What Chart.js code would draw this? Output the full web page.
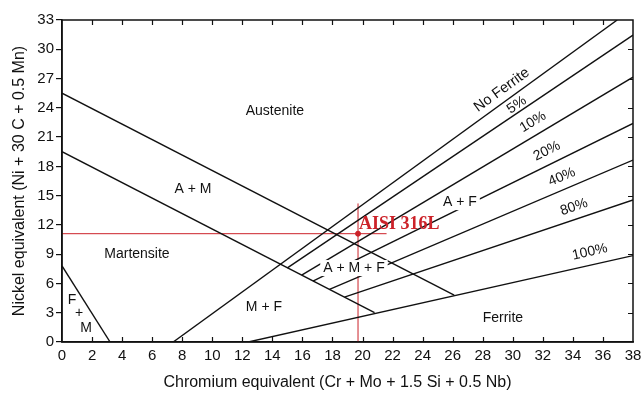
<!DOCTYPE html>
<html>
<head>
<meta charset="utf-8">
<script src="https://cdn.jsdelivr.net/npm/chart.js@4.4.1/dist/chart.umd.min.js"></script>
<style>
  html, body { margin: 0; padding: 0; background: #fff; }
  #wrap { width: 641px; height: 394px; }
</style>
</head>
<body>
<div id="wrap"><canvas id="myChart"></canvas></div>
<script>
// Schaeffler diagram boundaries, each one a straight segment (Cr eq, Ni eq)
const boundaryNames = ['A/A+M', 'A+M/M', 'F+M', 'No Ferrite', '5%', '10%', '20%', '40%', '80%', '100%'];
const startCr = [0, 0, 0, 7.4, 15.0, 15.95, 16.7, 17.8, 18.8, 12.4];
const startNi = [25.5, 19.5, 7.8, 0, 7.6, 6.85, 6.25, 5.4, 4.6, 0];
const endCr = [26.1, 20.8, 3.2, 36.95, 38, 38, 38, 38, 38, 38];
const endNi = [4.8, 3.0, 0, 33, 31.45, 27.15, 22.4, 18.65, 14.55, 8.85];

// the alloy that is marked in red
const alloyName = 'AISI 316L';
const alloyCr = 19.7;
const alloyNi = 11.1;
const guideCrEnd = 21.6;
const guideNiEnd = 14.2;

// axis ranges / tick steps
const crMin = 0, crMax = 38, crStep = 2;
const niMin = 0, niMax = 33, niStep = 3;
const crTitle = 'Chromium equivalent (Cr + Mo + 1.5 Si + 0.5 Nb)';
const niTitle = 'Nickel equivalent (Ni + 30 C + 0.5 Mn)';

// text written on the diagram
const labelText = ['Austenite', 'A + M', 'Martensite', 'F', '+', 'M', 'M + F', 'Ferrite', 'A + M + F', 'A + F',
  'No Ferrite', '5%', '10%', '20%', '40%', '80%', '100%'];
const labelCr = [14.17, 8.72, 4.99, 0.67, 1.13, 1.6, 13.44, 29.34, 19.43, 26.48, 29.27, 30.27, 31.34, 32.27, 33.27, 34.07, 35.13];
const labelNi = [23.67, 15.68, 9.02, 4.3, 2.97, 1.43, 3.59, 2.46, 7.58, 14.34, 25.82, 24.28, 22.54, 19.57, 16.9, 13.83, 9.22];
const labelAngle = [0, 0, 0, 0, 0, 0, 0, 0, 0, 0, -36, -34, -31, -26, -23, -18.5, -12.6];
const labelSize = [14, 14, 14, 14, 14, 14, 14, 14, 14, 14, 14.5, 14, 14, 14, 14, 14, 14];
const labelBox = [false, false, false, false, false, false, false, false, true, true, false, false, false, false, false, false, false];

const FONT = "'Liberation Sans', Arial, sans-serif";
const RED = '#cc2229';

let datasets = [];
boundaryNames.forEach((name, i) => {
  datasets.push({
    label: name,
    data: [{x: startCr[i], y: startNi[i]}, {x: endCr[i], y: endNi[i]}],
    showLine: true,
    borderColor: '#111',
    borderWidth: 1.4,
    pointRadius: 0
  });
});
datasets.push({
  label: 'guide h',
  data: [{x: crMin, y: alloyNi}, {x: guideCrEnd, y: alloyNi}],
  showLine: true, borderColor: RED, borderWidth: 1, pointRadius: 0
});
datasets.push({
  label: 'guide v',
  data: [{x: alloyCr, y: niMin}, {x: alloyCr, y: guideNiEnd}],
  showLine: true, borderColor: RED, borderWidth: 1, pointRadius: 0
});
datasets.push({
  label: alloyName,
  data: [{x: alloyCr, y: alloyNi}],
  pointRadius: 2.5,
  backgroundColor: RED,
  borderColor: RED
});

const frameAndText = {
  id: 'frameAndText',
  afterDatasetsDraw(chart) {
    const ctx = chart.ctx;
    const xs = chart.scales.x, ys = chart.scales.y;
    const a = chart.chartArea;
    ctx.save();
    ctx.strokeStyle = '#111';
    ctx.lineWidth = 1.2;
    ctx.beginPath();
    // inward ticks on bottom, top and right
    xs.ticks.forEach(t => {
      if (t.value <= crMin || t.value >= crMax) return;
      const px = Math.round(xs.getPixelForValue(t.value)) + 0.5;
      ctx.moveTo(px, a.bottom); ctx.lineTo(px, a.bottom - 5);
      ctx.moveTo(px, a.top); ctx.lineTo(px, a.top + 5);
    });
    ys.ticks.forEach(t => {
      if (t.value <= niMin || t.value >= niMax) return;
      const py = Math.round(ys.getPixelForValue(t.value)) + 0.5;
      ctx.moveTo(a.right, py); ctx.lineTo(a.right - 5, py);
    });
    ctx.stroke();
    ctx.lineWidth = 1.5;
    ctx.strokeRect(a.left, a.top, a.right - a.left, a.bottom - a.top);

    // labels
    ctx.fillStyle = '#111';
    ctx.textAlign = 'center';
    ctx.textBaseline = 'middle';
    labelText.forEach((txt, i) => {
      const px = xs.getPixelForValue(labelCr[i]);
      const py = ys.getPixelForValue(labelNi[i]);
      ctx.save();
      ctx.translate(px, py);
      ctx.rotate(labelAngle[i] * Math.PI / 180);
      ctx.font = labelSize[i] + 'px ' + FONT;
      if (labelBox[i]) {
        const w = ctx.measureText(txt).width;
        ctx.fillStyle = '#fff';
        ctx.fillRect(-w / 2 - 3, -8, w + 6, 16);
        ctx.fillStyle = '#111';
      }
      ctx.fillText(txt, 0, 0);
      ctx.restore();
    });

    // x axis title, sits a little left of centre in the original
    ctx.font = '16px ' + FONT;
    ctx.fillText(crTitle, (a.left + a.right) / 2 - 10, chart.height - 11);

    // alloy name
    ctx.fillStyle = RED;
    ctx.font = "bold 18px 'Liberation Serif', 'Times New Roman', serif";
    ctx.textAlign = 'left';
    ctx.fillText(alloyName, xs.getPixelForValue(alloyCr) + 1, ys.getPixelForValue(12.1));
    ctx.restore();
  }
};

new Chart(document.getElementById('myChart'), {
  type: 'scatter',
  data: { datasets: datasets },
  options: {
    responsive: true,
    maintainAspectRatio: false,
    animation: false,
    layout: { padding: { top: 20, right: 8, left: 0, bottom: 0 } },
    plugins: { legend: { display: false }, tooltip: { enabled: false } },
    scales: {
      x: {
        type: 'linear',
        min: crMin, max: crMax,
        ticks: { stepSize: crStep, autoSkip: false, maxRotation: 0, padding: 5, color: '#111', font: { family: FONT, size: 15 } },
        grid: { drawOnChartArea: false, drawTicks: false },
        border: { display: true, color: '#111', width: 1.5 },
        title: { display: false },
        afterFit(scale) { scale.height = 52; scale.paddingLeft = 0; scale.paddingRight = 0; }
      },
      y: {
        type: 'linear',
        min: niMin, max: niMax,
        ticks: { stepSize: niStep, autoSkip: false, padding: 2, color: '#111', font: { family: FONT, size: 15 } },
        grid: { drawOnChartArea: false, drawTicks: true, tickLength: 6, color: '#111', lineWidth: 1.2 },
        border: { display: true, color: '#111', width: 1.5 },
        title: { display: true, text: niTitle, color: '#111',
          font: { family: FONT, size: 16 }, padding: { top: 10, bottom: 0 } },
        afterFit(scale) { scale.width = 62; scale.paddingTop = 0; scale.paddingBottom = 0; }
      }
    }
  },
  plugins: [frameAndText]
});
</script>
</body>
</html>
